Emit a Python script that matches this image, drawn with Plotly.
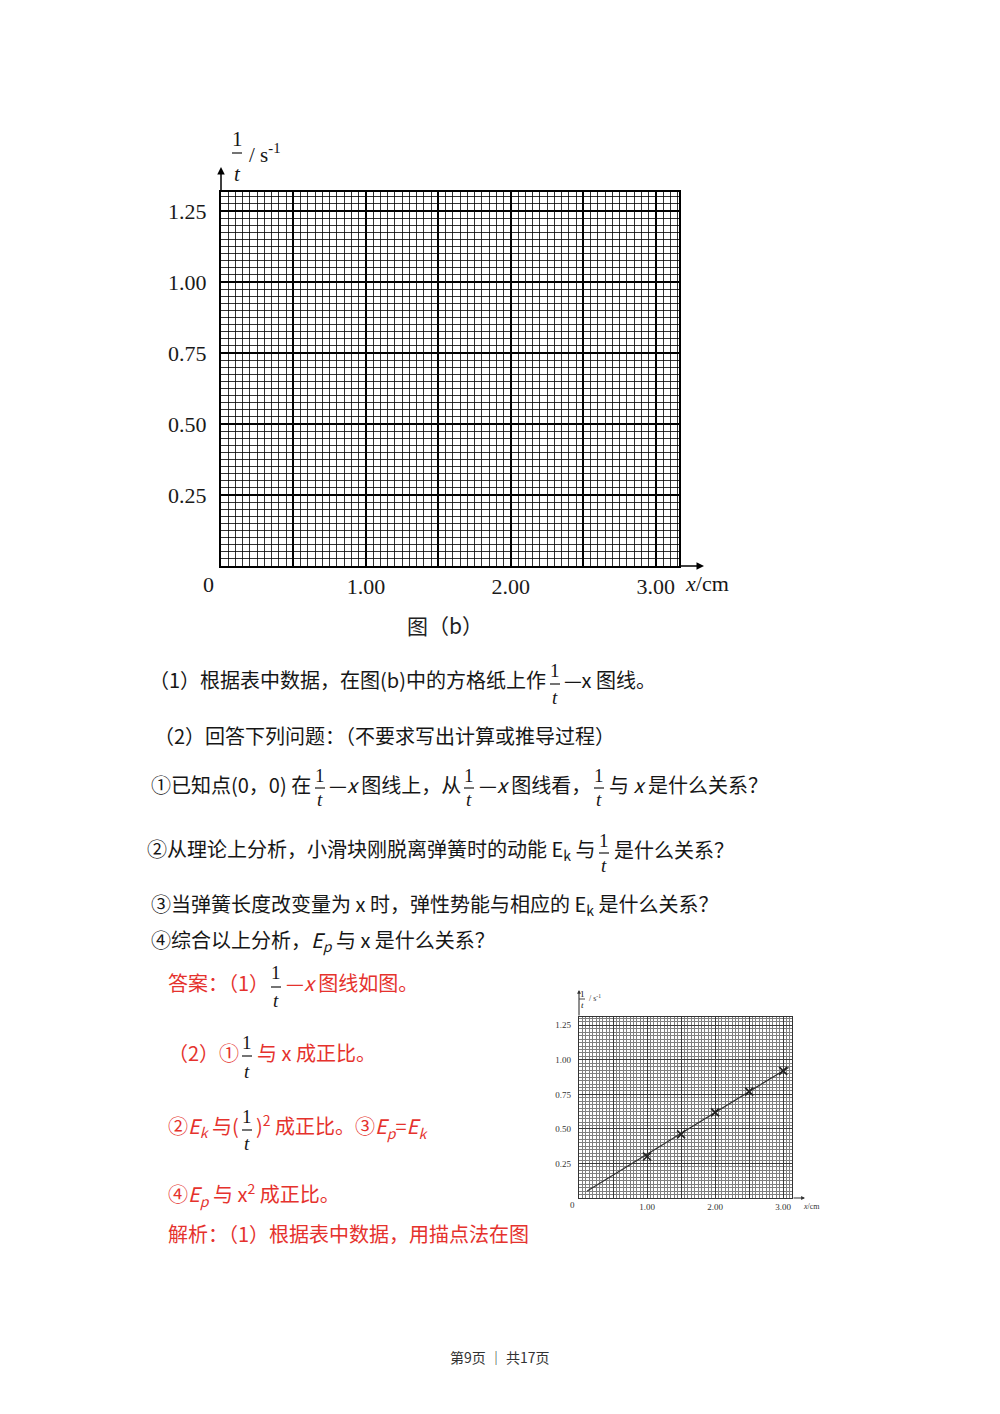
import plotly.graph_objects as go

# ---- data ----
x_tick_vals = [1.00, 2.00, 3.00]
x_tick_text = ["1.00", "2.00", "3.00"]
y_tick_vals = [0.25, 0.50, 0.75, 1.00, 1.25]
y_tick_text = ["0.25", "0.50", "0.75", "1.00", "1.25"]

# measured points of the answer graph (x in cm, 1/t in s^-1)
ans_x = [1.00, 1.50, 2.00, 2.50, 3.00]
ans_inv_t = [0.30, 0.46, 0.62, 0.77, 0.92]
# fitted straight line drawn through the points
fit_x = [0.12, 3.08]
fit_y = [0.05, 0.945]

W, H = 1000, 1414
BLACK = "#161616"
RED = "#e5322d"
CJK = "Noto Sans CJK SC"
SERIF = "Liberation Serif"
BODY = 20


def px(x):
    return x / W


def py(y):
    return 1 - y / H


fig = go.Figure()

# blank grid paper (main figure)
fig.add_trace(go.Scatter(x=[], y=[], xaxis="x", yaxis="y", showlegend=False))

# answer graph
fig.add_trace(go.Scatter(x=fit_x, y=fit_y, mode="lines", xaxis="x2", yaxis="y2",
                         line=dict(color="#333", width=1.2), showlegend=False,
                         hoverinfo="skip"))
fig.add_trace(go.Scatter(x=ans_x, y=ans_inv_t, mode="markers", xaxis="x2", yaxis="y2",
                         marker=dict(symbol="x-thin", size=8,
                                     line=dict(color="#222", width=1.6)),
                         showlegend=False))


def major_vals(step, top):
    vals, v = [], 0.0
    while v <= top + 1e-9:
        vals.append(round(v, 4))
        v += step
    return vals


def labelled(vals, tick_vals, tick_text):
    out = []
    for v in vals:
        txt = ""
        for tv, tt in zip(tick_vals, tick_text):
            if abs(tv - v) < 1e-6:
                txt = tt
        out.append(txt)
    return out


X1_MAX, Y1_MAX = 3.16, 1.317
X2_MAX, Y2_MAX = 3.13, 1.31

x1_major = major_vals(0.5, X1_MAX)
y1_major = major_vals(0.25, Y1_MAX)
x2_major = major_vals(0.5, X2_MAX)
y2_major = major_vals(0.25, Y2_MAX)

fig.update_layout(
    width=W, height=H,
    margin=dict(l=0, r=0, t=0, b=0),
    paper_bgcolor="white", plot_bgcolor="white",
    xaxis=dict(domain=[px(221), px(679)], range=[0, X1_MAX],
               tickmode="array", tickvals=x1_major,
               ticktext=labelled(x1_major, x_tick_vals, x_tick_text),
               showgrid=True, gridcolor="#000", gridwidth=2,
               minor=dict(dtick=0.05, tick0=0, showgrid=True,
                          gridcolor="rgba(0,0,0,0.8)", gridwidth=1.2),
               showline=True, linecolor="#000", linewidth=2, mirror=True,
               ticks="", ticklabelstandoff=0, zeroline=False,
               tickfont=dict(family=SERIF, size=22, color="#1a1a1a"),
               anchor="y", fixedrange=True),
    yaxis=dict(domain=[py(566), py(192)], range=[0, Y1_MAX],
               tickmode="array", tickvals=y1_major,
               ticktext=labelled(y1_major, y_tick_vals, y_tick_text),
               showgrid=True, gridcolor="#000", gridwidth=2,
               minor=dict(dtick=0.025, tick0=0, showgrid=True,
                          gridcolor="rgba(0,0,0,0.8)", gridwidth=1.2),
               showline=True, linecolor="#000", linewidth=2, mirror=True,
               ticks="", ticklabelstandoff=8, zeroline=False,
               tickfont=dict(family=SERIF, size=22, color="#1a1a1a"),
               anchor="x", fixedrange=True),
    xaxis2=dict(domain=[px(579), px(792)], range=[0, X2_MAX],
                tickmode="array", tickvals=x2_major,
                ticktext=labelled(x2_major, x_tick_vals, x_tick_text),
                showgrid=True, gridcolor="#3a3a3a", gridwidth=1.4,
                minor=dict(dtick=0.05, tick0=0, showgrid=True,
                           gridcolor="#7f7f7f", gridwidth=1),
                showline=True, linecolor="#333", linewidth=1.2, mirror=True,
                ticks="", ticklabelstandoff=0, zeroline=False,
                tickfont=dict(family=SERIF, size=9, color="#333"),
                anchor="y2", fixedrange=True),
    yaxis2=dict(domain=[py(1198), py(1017)], range=[0, Y2_MAX],
                tickmode="array", tickvals=y2_major,
                ticktext=labelled(y2_major, y_tick_vals, y_tick_text),
                showgrid=True, gridcolor="#3a3a3a", gridwidth=1.4,
                minor=dict(dtick=0.025, tick0=0, showgrid=True,
                           gridcolor="#7f7f7f", gridwidth=1),
                showline=True, linecolor="#333", linewidth=1.2, mirror=True,
                ticks="", ticklabelstandoff=5, zeroline=False,
                tickfont=dict(family=SERIF, size=9, color="#333"),
                anchor="x2", fixedrange=True),
)

annotations = []
shapes = []


def text(x, y, s, size=BODY, color=BLACK, family=CJK, anchor="left"):
    annotations.append(dict(x=px(x), y=py(y), xref="paper", yref="paper",
                            text=s, showarrow=False, xanchor=anchor,
                            yanchor="middle",
                            font=dict(family=family, size=size, color=color)))


def frac(xc, y_num, y_bar, y_den, size=19, color=BLACK, half=5, width=1.2):
    text(xc, y_num, "1", size=size, color=color, family=SERIF, anchor="center")
    text(xc, y_den, "<i>t</i>", size=size, color=color, family=SERIF, anchor="center")
    shapes.append(dict(type="line", xref="paper", yref="paper",
                       x0=px(xc - half), x1=px(xc + half),
                       y0=py(y_bar), y1=py(y_bar),
                       line=dict(color=color, width=width)))


def arrow(tip_x, tip_y, ax, ay, size=1.0, width=1.5, color="#000"):
    annotations.append(dict(x=px(tip_x), y=py(tip_y), xref="paper", yref="paper",
                            text="", showarrow=True, arrowhead=2,
                            arrowsize=size, arrowwidth=width, arrowcolor=color,
                            ax=ax, ay=ay, standoff=0, startstandoff=0))


# ---- main figure labels ----
frac(237, 139, 153, 174, size=21, half=5)
text(247, 153, "/ s<sup>-1</sup>", size=21, family=SERIF)
arrow(221, 167, 0, 26)
arrow(704, 566, -26, 0)
text(208, 584, "0", size=22, family=SERIF, anchor="center")
text(683, 583, "<i>x</i>/cm", size=22, family=SERIF)
text(445, 625, "图（b）", size=21, color="#222", anchor="center")

# ---- question text ----
text(548, 679, "（1）根据表中数据，在图(b)中的方格纸上作", anchor="right")
frac(555, 670, 684, 697)
text(562, 679, "—x 图线。")

text(152, 735, "（2）回答下列问题：（不要求写出计算或推导过程）")

text(313, 784, "①已知点(0，0) 在", anchor="right")
frac(320, 775, 788, 799)
text(327, 784, "—<i>x</i> 图线上，从")
frac(469, 775, 788, 799)
text(477, 784, "—<i>x</i> 图线看，")
frac(599, 775, 788, 799)
text(607, 784, "与 <i>x</i> 是什么关系？")

text(597, 849, "②从理论上分析，小滑块刚脱离弹簧时的动能 E<sub>k</sub> 与", anchor="right")
frac(604, 840, 853, 865)
text(612, 849, "是什么关系？")

text(149, 904, "③当弹簧长度改变量为 x 时，弹性势能与相应的 E<sub>k</sub> 是什么关系？")
text(149, 940, "④综合以上分析，<i>E<sub>p</sub></i> 与 x 是什么关系？")

# ---- answer text ----
text(166, 982, "答案：（1）", color=RED)
frac(276, 972, 987, 1000)
text(284, 982, "—<i>x</i> 图线如图。", color=RED)

text(241, 1052, "（2）①", color=RED, anchor="right")
frac(247, 1042, 1056, 1071)
text(255, 1052, "与 x 成正比。", color=RED)

text(241, 1126, "②<i>E<sub>k</sub></i> 与(", color=RED, anchor="right")
frac(247, 1116, 1130, 1143)
text(254, 1126, ")<sup>2</sup> 成正比。③<i>E<sub>p</sub></i>=<i>E<sub>k</sub></i>", color=RED)

text(166, 1194, "④<i>E<sub>p</sub></i> 与 x<sup>2</sup> 成正比。", color=RED)
text(166, 1233, "解析：（1）根据表中数据，用描点法在图", color=RED)

# ---- answer graph labels ----
frac(582, 994, 999, 1005, size=9, half=3, width=0.8)
text(587, 998, "/ s<sup>-1</sup>", size=8, family=SERIF, color="#333")
arrow(579, 990, 0, 27, size=0.7, width=1.1, color="#333")
arrow(805, 1198, -13, 0, size=0.7, width=1.1, color="#333")
text(572, 1205, "0", size=9, family=SERIF, color="#333", anchor="center")
text(801, 1206, "<i>x</i>/cm", size=8, family=SERIF, color="#333")

# ---- footer ----
text(500, 1357, "第9页 ｜ 共17页", size=14, color="#333", anchor="center")

fig.update_layout(annotations=annotations, shapes=shapes)
fig.write_html("out.html")
